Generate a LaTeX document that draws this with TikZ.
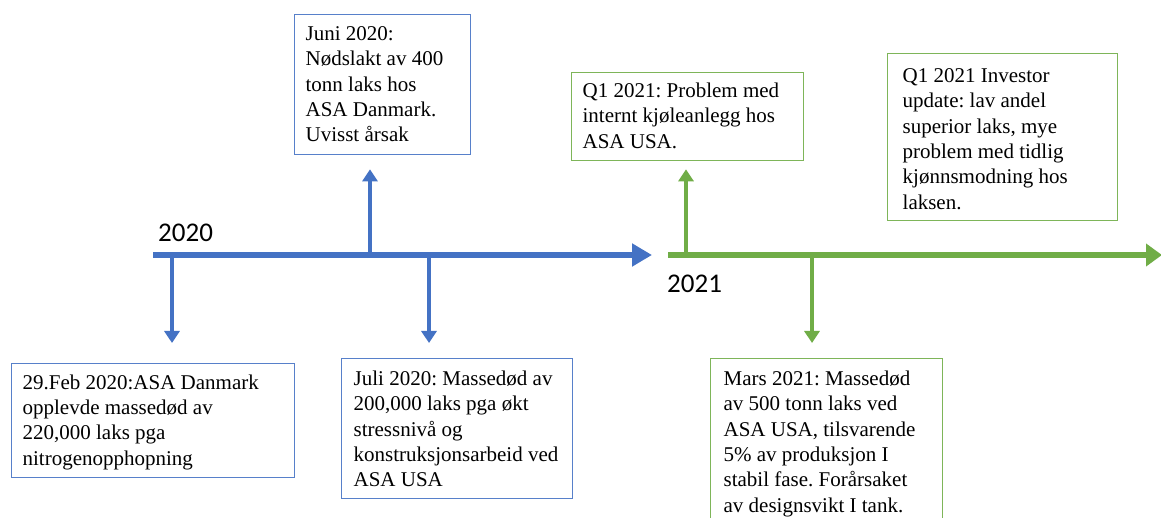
\documentclass[tikz,border=0pt]{standalone}
\usepackage{fontspec}
\setmainfont{Liberation Serif}
\newfontfamily\yearfont{Carlito}
\usetikzlibrary{arrows.meta}
\frenchspacing
\definecolor{tlblue}{HTML}{4472C4}
\definecolor{tlgreen}{HTML}{70AD47}
\newcommand{\evtext}[5]{\parbox[c][#2][t]{#1}{\raggedright\leftskip=#3\relax\fontsize{21}{25.3}\selectfont\frenchspacing\rule{0pt}{#4}#5}}
\tikzset{
  evbox/.style={draw, line width=1.3pt, inner sep=0pt, anchor=north west},
  bluebox/.style={evbox, draw=tlblue!90},
  greenbox/.style={evbox, draw=tlgreen!90},
  mainline/.style={line width=6pt},
  varrow/.style={line width=3.5pt, -{Triangle[length=12pt,width=15pt]}},
  yearlabel/.style={inner sep=0pt, anchor=base west, font=\yearfont\fontsize{27}{30}\selectfont}
}
\begin{document}
\begin{tikzpicture}[x=1pt,y=-1pt]
\path[use as bounding box] (0,0) rectangle (1161,518);
\clip (0,0) rectangle (1161,518);

% boxes
\node[bluebox] (feb) at (11,363) {\evtext{283pt}{114pt}{11pt}{25.5pt}{29.Feb 2020:ASA Danmark\\opplevde massedød av\\220,000 laks pga\\nitrogenopphopning}};
\node[bluebox] (juni) at (294,14) {\evtext{176pt}{140pt}{11pt}{26pt}{Juni 2020:\\Nødslakt av 400\\tonn laks hos\\ASA Danmark.\\Uvisst årsak}};
\node[bluebox] (juli) at (341,358) {\evtext{231pt}{140pt}{12pt}{27pt}{Juli 2020: Massedød av\\200,000 laks pga økt\\stressnivå og\\konstruksjonsarbeid ved\\ASA USA}};
\node[greenbox] (q1p) at (571,72) {\evtext{232pt}{88pt}{11pt}{25pt}{Q1 2021: Problem med\\internt kjøleanlegg hos\\ASA USA.}};
\node[greenbox] (inv) at (887,53) {\evtext{230pt}{167pt}{15pt}{29pt}{Q1 2021 Investor\\update: lav andel\\superior laks, mye\\problem med tidlig\\kjønnsmodning hos\\laksen.}};
\node[greenbox] (mars) at (710,358) {\evtext{232pt}{180pt}{13pt}{27pt}{Mars 2021: Massedød\\av 500 tonn laks ved\\ASA USA, tilsvarende\\5\% av produksjon I\\stabil fase. Forårsaket\\av designsvikt I tank.}};

% timeline coordinates
\coordinate (b0) at (153,255);
\coordinate (b1) at (652,255);
\coordinate (g0) at (668,255);
\coordinate (g1) at (1162,255);
\coordinate (a1) at (172,255);
\coordinate (a2) at (370,255);
\coordinate (a3) at (429,255);
\coordinate (a4) at (686,255);
\coordinate (a5) at (812,255);

% vertical arrows
\draw[varrow, tlblue, shorten >=20pt] (a1) -- (a1 |- feb.north);
\draw[varrow, tlblue, shorten >=14pt] (a2) -- (a2 |- juni.south);
\draw[varrow, tlblue, shorten >=15pt] (a3) -- (a3 |- juli.north);
\draw[varrow, tlgreen, shorten >=8pt] (a4) -- (a4 |- q1p.south);
\draw[varrow, tlgreen, shorten >=15pt] (a5) -- (a5 |- mars.north);

% main timelines
\draw[mainline, tlblue, -{Triangle[length=20pt,width=22pt]}] (b0) -- (b1);
\draw[mainline, tlgreen, -{Triangle[length=16pt,width=22pt]}] (g0) -- (g1);

% year labels
\node[yearlabel] (y2020) at (158,242) {2020};
\node[yearlabel] (y2021) at (667,293) {2021};
\end{tikzpicture}
\end{document}
